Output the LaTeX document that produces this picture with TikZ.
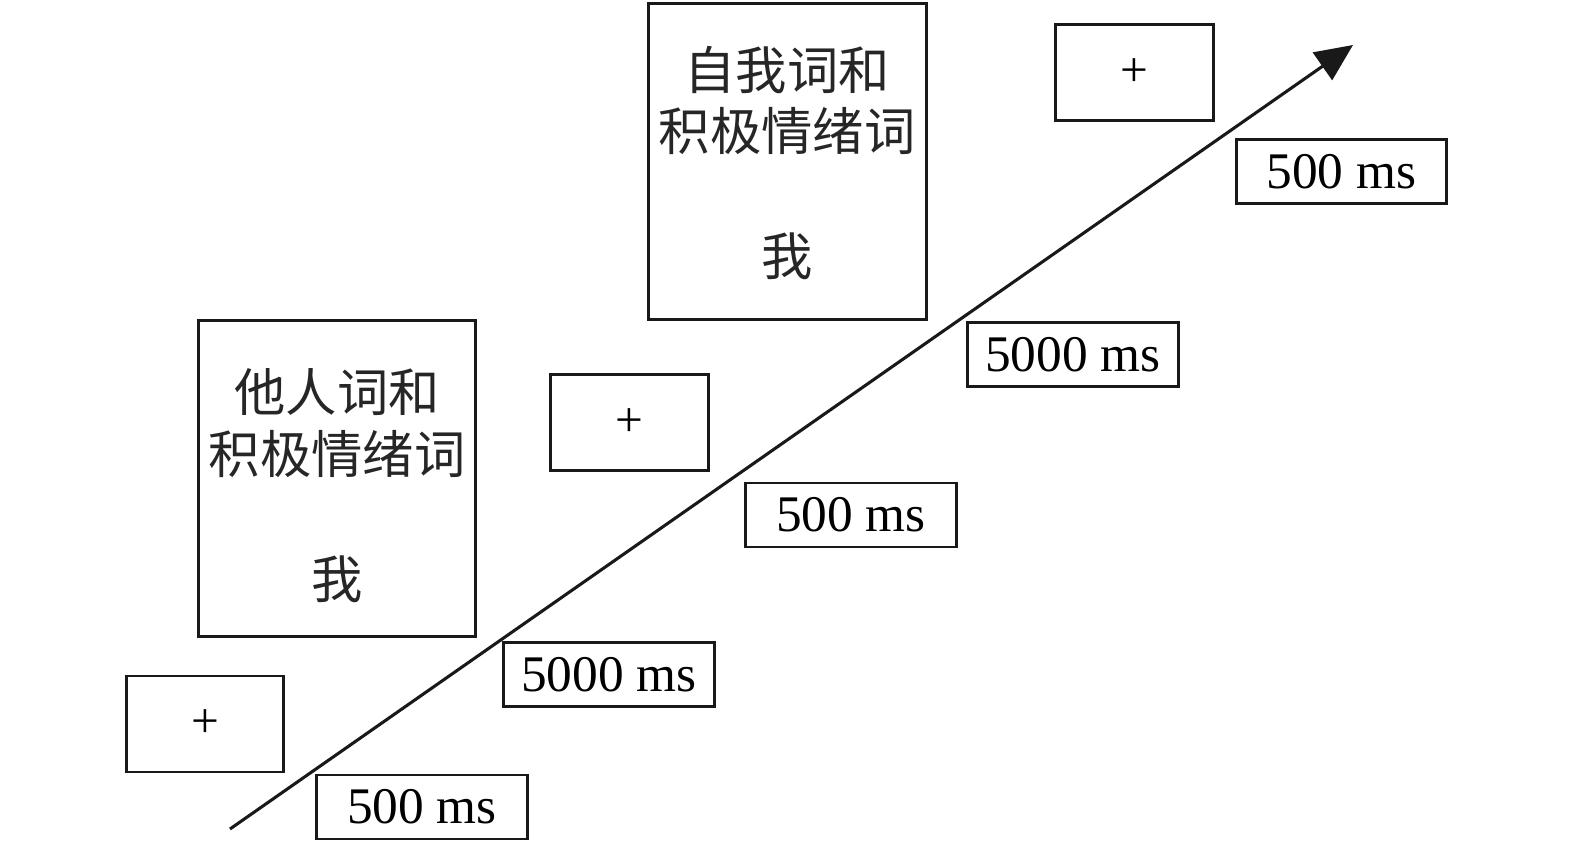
\documentclass[tikz,border=0pt]{standalone}
\usepackage{fontspec}
\setmainfont{Liberation Serif}
\newfontfamily\cjk{Noto Sans CJK SC}
\usetikzlibrary{arrows.meta}
\begin{document}
\begin{tikzpicture}[x=0.75pt,y=-0.75pt,
  frame/.style={draw=black!90,line width=2.2pt,inner sep=0pt},
  plusbox/.style={frame,minimum width=118pt,minimum height=72pt,font=\fontsize{37}{40}\selectfont},
  timebox/.style={frame,minimum width=158pt,minimum height=48pt,font=\fontsize{38.5}{40}\selectfont},
  wordbox/.style={frame,minimum width=208pt,minimum height=237pt},
  cjktext/.style={inner sep=0pt,font=\cjk\fontsize{38.5}{40}\selectfont,text=black!85}]
\useasboundingbox (0,0) rectangle (1575,846);
\node[plusbox] (p1) at (205,724) {+};
\node[timebox] (t1) at (422,807) {500 ms};
\node[wordbox] (w1) at (337,478.5) {};
\node[cjktext] (w1a) at (337,392) {他人词和};
\node[cjktext] (w1b) at (337,454) {积极情绪词};
\node[cjktext] (w1c) at (337,579) {我};
\node[timebox] (t2) at (609,674.5) {5000 ms};
\node[plusbox] (p2) at (629.5,422.5) {+};
\node[timebox] (t3) at (851,515) {500 ms};
\node[wordbox] (w2) at (787.5,161.5) {};
\node[cjktext] (w2a) at (787,70) {自我词和};
\node[cjktext] (w2b) at (787,131) {积极情绪词};
\node[cjktext] (w2c) at (787,256) {我};
\node[timebox] (t4) at (1073,354.5) {5000 ms};
\node[plusbox] (p3) at (1134.5,72.5) {+};
\node[timebox] (t5) at (1341.5,171.5) {500 ms};
\coordinate (a0) at (230,829);
\coordinate (a1) at (1353,45);
\draw[line width=2.3pt,draw=black!90,-{Triangle[length=28pt,width=25pt]}] (a0) -- (a1);
\end{tikzpicture}
\end{document}
